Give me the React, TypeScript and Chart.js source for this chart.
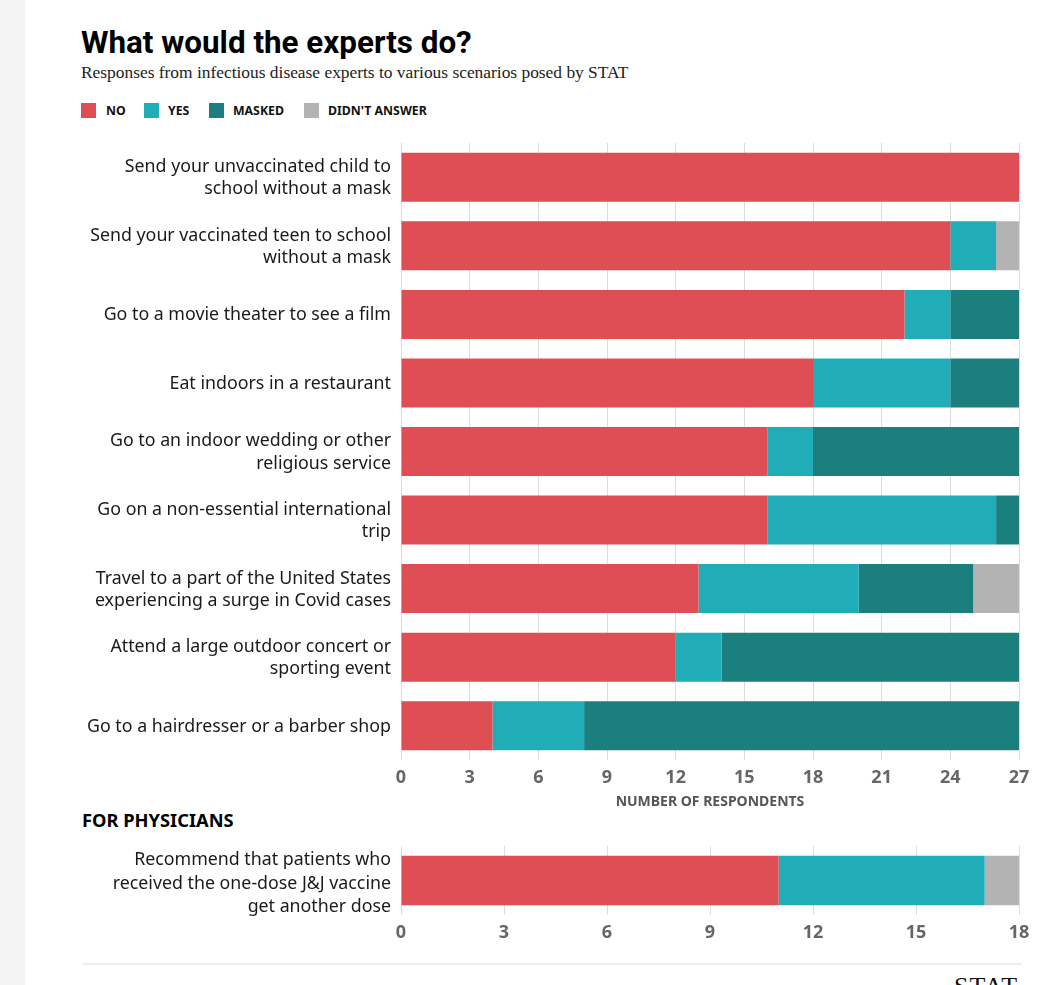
import React, { useEffect, useRef } from "react";
import { Chart, registerables } from "chart.js";

Chart.register(...registerables);

// ---- Data ----
const scenarios: string[][] = [
  ["Send your unvaccinated child to", "school without a mask"],
  ["Send your vaccinated teen to school", "without a mask"],
  ["Go to a movie theater to see a film"],
  ["Eat indoors in a restaurant"],
  ["Go to an indoor wedding or other", "religious service"],
  ["Go on a non-essential international", "trip"],
  ["Travel to a part of the United States", "experiencing a surge in Covid cases"],
  ["Attend a large outdoor concert or", "sporting event"],
  ["Go to a hairdresser or a barber shop"],
];
const noValues = [27, 24, 22, 18, 16, 16, 13, 12, 4];
const yesValues = [0, 2, 2, 6, 2, 10, 7, 2, 4];
const maskedValues = [0, 0, 3, 3, 9, 1, 5, 13, 19];
const didntAnswerValues = [0, 1, 0, 0, 0, 0, 2, 0, 0];
const mainMax = 27;
const mainStep = 3;

const physicianScenarios: string[][] = [
  ["Recommend that patients who", "received the one-dose J&J vaccine", "get another dose"],
];
const physNoValues = [11];
const physYesValues = [6];
const physMaskedValues = [0];
const physDidntAnswerValues = [1];
const physMax = 18;
const physStep = 3;

const seriesNames = ["NO", "YES", "MASKED", "DIDN'T ANSWER"];
const seriesColors = ["#e04e55", "#21adb8", "#1a7f7d", "#b3b3b3"];

const LABEL_FONT = "'Noto Sans', sans-serif";

function makeConfig(
  labels: string[][],
  values: number[][],
  max: number,
  step: number,
  padTop: number,
  lineHeight: number,
  labelOffset: number
): any {
  return {
    type: "bar",
    data: {
      labels,
      datasets: values.map((v, i) => ({
        label: seriesNames[i],
        data: v,
        backgroundColor: seriesColors[i],
        borderWidth: 0,
        barPercentage: 0.715,
        categoryPercentage: 1,
      })),
    },
    options: {
      indexAxis: "y",
      animation: false,
      responsive: false,
      events: [],
      layout: { padding: { top: padTop, right: 25, left: 0, bottom: 0 } },
      plugins: { legend: { display: false }, tooltip: { enabled: false } },
      scales: {
        x: {
          stacked: true,
          min: 0,
          max,
          border: { display: false },
          grid: { color: "#dcdcdc", lineWidth: 1, drawTicks: false },
          ticks: {
            stepSize: step,
            padding: 7,
            color: "#666666",
            font: { family: LABEL_FONT, size: 18, weight: "bold" },
          },
          afterFit: (s: any) => {
            s.height = 40;
            s.paddingLeft = 0;
            s.paddingRight = 0;
          },
        },
        y: {
          stacked: true,
          border: { display: false },
          grid: { display: false, drawTicks: false },
          ticks: {
            padding: 10,
            labelOffset,
            color: "#1a1a1a",
            font: { family: LABEL_FONT, size: 17.8, lineHeight },
          },
          afterFit: (s: any) => {
            s.width = 401;
            s.paddingTop = 0;
            s.paddingBottom = 0;
          },
        },
      },
    },
  };
}

function BarChart(props: { config: any; style: React.CSSProperties; width: number; height: number }) {
  const ref = useRef<HTMLCanvasElement | null>(null);
  useEffect(() => {
    if (!ref.current) return;
    const chart = new Chart(ref.current, props.config);
    return () => chart.destroy();
  }, []);
  return <canvas ref={ref} width={props.width} height={props.height} style={props.style} />;
}

export default function App() {
  const mainConfig = makeConfig(
    scenarios,
    [noValues, yesValues, maskedValues, didntAnswerValues],
    mainMax,
    mainStep,
    13,
    1.25,
    1
  );
  const physConfig = makeConfig(
    physicianScenarios,
    [physNoValues, physYesValues, physMaskedValues, physDidntAnswerValues],
    physMax,
    physStep,
    11,
    1.3,
    3
  );

  const legendSquares = [81, 144, 209, 304];
  const legendLabels = [106, 168, 233, 328];

  return (
    <div
      style={{
        position: "absolute",
        left: 0,
        top: 0,
        width: 1044,
        height: 985,
        overflow: "hidden",
        background: "#ffffff",
      }}
    >
      <div style={{ position: "absolute", left: 0, top: 0, width: 25, height: 985, background: "#f3f3f3" }} />
      <div
        style={{
          position: "absolute",
          left: 81,
          top: 27,
          fontFamily: "Roboto, sans-serif",
          fontWeight: 700,
          fontSize: 31.4,
          lineHeight: "32px",
          color: "#000",
          whiteSpace: "nowrap",
        }}
      >
        What would the experts do?
      </div>
      <div
        style={{
          position: "absolute",
          left: 81,
          top: 62,
          fontFamily: "'Liberation Serif', serif",
          fontSize: 17.4,
          lineHeight: "20px",
          color: "#222",
          whiteSpace: "nowrap",
        }}
      >
        Responses from infectious disease experts to various scenarios posed by STAT
      </div>
      {seriesNames.map((n, i) => (
        <React.Fragment key={n}>
          <div
            style={{
              position: "absolute",
              left: legendSquares[i],
              top: 103,
              width: 15,
              height: 15,
              background: seriesColors[i],
            }}
          />
          <div
            style={{
              position: "absolute",
              left: legendLabels[i],
              top: 102,
              fontFamily: LABEL_FONT,
              fontWeight: 700,
              fontSize: 12.3,
              lineHeight: "17px",
              color: "#111",
              whiteSpace: "nowrap",
            }}
          >
            {n}
          </div>
        </React.Fragment>
      ))}

      <BarChart config={mainConfig} width={1044} height={670} style={{ position: "absolute", left: 0, top: 130 }} />

      <div
        style={{
          position: "absolute",
          left: 401,
          width: 618,
          top: 792,
          textAlign: "center",
          fontFamily: LABEL_FONT,
          fontWeight: 700,
          fontSize: 14,
          lineHeight: "18px",
          color: "#555",
          whiteSpace: "nowrap",
        }}
      >
        NUMBER OF RESPONDENTS
      </div>

      <div
        style={{
          position: "absolute",
          left: 82,
          top: 808,
          fontFamily: LABEL_FONT,
          fontWeight: 700,
          fontSize: 18.3,
          lineHeight: "24px",
          color: "#000",
          whiteSpace: "nowrap",
        }}
      >
        FOR PHYSICIANS
      </div>

      <BarChart config={physConfig} width={1044} height={120} style={{ position: "absolute", left: 0, top: 835 }} />

      <div style={{ position: "absolute", left: 83, top: 963, width: 939, height: 2, background: "#eeeeee" }} />
      <div
        style={{
          position: "absolute",
          left: 954,
          top: 972,
          fontFamily: "'Liberation Serif', serif",
          fontSize: 26,
          lineHeight: "30px",
          letterSpacing: 1,
          color: "#111",
          whiteSpace: "nowrap",
        }}
      >
        STAT
      </div>
    </div>
  );
}
